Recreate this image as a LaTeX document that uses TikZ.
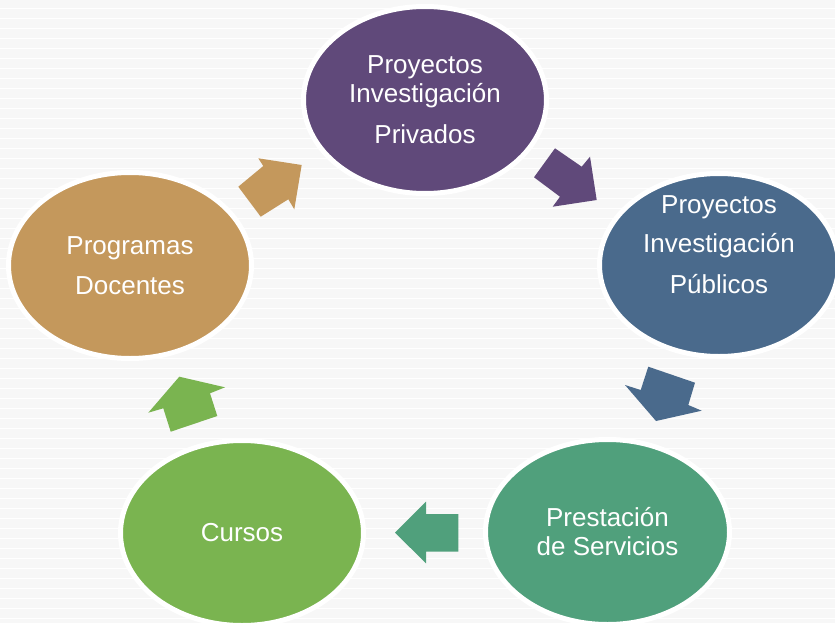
\documentclass[tikz,border=0pt]{standalone}
\usepackage{fontspec}
\setmainfont{Liberation Sans}
\usetikzlibrary{shapes.geometric}
\definecolor{bg}{RGB}{247,247,247}
\definecolor{cpurple}{RGB}{96,73,122}
\definecolor{cblue}{RGB}{74,106,140}
\definecolor{cteal}{RGB}{80,160,124}
\definecolor{cgreen}{RGB}{122,180,80}
\definecolor{ctan}{RGB}{196,152,92}
\begin{document}
\begin{tikzpicture}[x=1pt,y=-1pt,
  bubble/.style={ellipse, inner sep=0pt, draw=white, line width=5pt, text=white,
    align=center, font=\fontsize{26}{29}\selectfont},
  bubbletext/.style={inner sep=0pt, text=white, align=center, font=\fontsize{26}{29}\selectfont},
  stripe/.style={white, line width=1.5pt}]
\useasboundingbox (0,0) rectangle (835,623);
\clip (0,0) rectangle (835,623);
\fill[bg] (0,0) rectangle (835,623);
\foreach \k in {0,...,61} \draw[stripe] (0,8.5+10*\k) -- (835,8.5+10*\k);

% ellipses
\node[bubble, fill=cpurple, minimum width=243pt, minimum height=187pt] (e1) at (425,100)
  {Proyectos\\Investigación\\[12pt]Privados};
\node[bubble, fill=cblue, minimum width=239pt, minimum height=183pt] (e2) at (719,265) {};
\node[bubbletext] (t2) at (719,245) {Proyectos\\[10pt]Investigación\\[12pt]Públicos};
\node[bubble, fill=cteal, minimum width=244pt, minimum height=185pt] (e3) at (607.5,532)
  {Prestación\\de Servicios};
\node[bubble, fill=cgreen, minimum width=243pt, minimum height=185pt] (e4) at (242,533)
  {Cursos};
\node[bubble, fill=ctan, minimum width=243pt, minimum height=186pt] (e5) at (130,265.5)
  {Programas\\[11pt]Docentes};

% block arrows
\fill[ctan] (238.3,186.7) -- (263.3,166) -- (258.3,158.3) -- (301.7,165) -- (294.3,209.3)
  -- (288.3,199.3) -- (260.7,216.7) -- cycle;
\fill[cpurple] (555,148.3) -- (581.7,166.7) -- (590,156.7) -- (596.7,200) -- (552.7,206.7)
  -- (560,196.7) -- (534,177.3) -- cycle;
\fill[cblue] (648.3,366.7) -- (695,382.7) -- (688.3,405) -- (701.7,410.7) -- (656,421)
  -- (625,385) -- (640.7,390) -- cycle;
\fill[cteal] (395,532.7) -- (426,501.7) -- (426,514) -- (458.3,514) -- (458.3,551.7)
  -- (426,551.7) -- (426,563.3) -- cycle;
\fill[cgreen] (179.3,376.7) -- (225,387.3) -- (210,393.3) -- (217.3,416) -- (170.7,431.7)
  -- (163.3,408.3) -- (148.3,412.7) -- cycle;
\end{tikzpicture}
\end{document}
